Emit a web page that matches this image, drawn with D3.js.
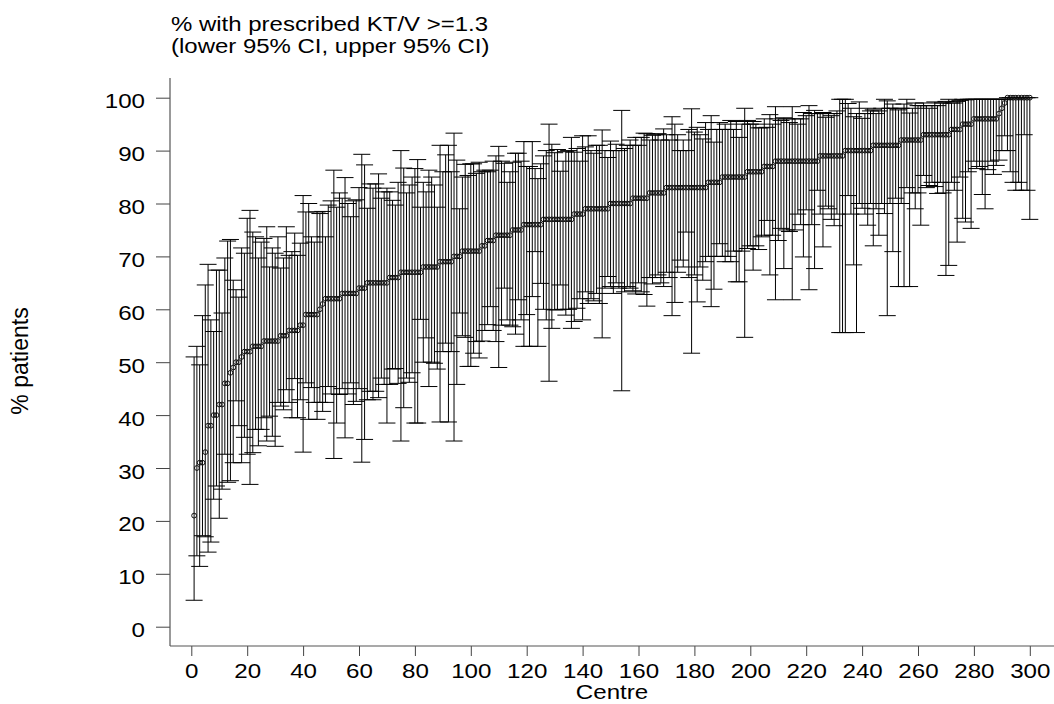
<!DOCTYPE html>
<html>
<head>
<meta charset="utf-8">
<script src="https://cdn.jsdelivr.net/npm/d3@7"></script>
<style>
  body { margin: 0; background: #fff; }
  svg { display: block; font-family: "Liberation Sans", Arial, sans-serif; }
</style>
</head>
<body>
<div id="chart"></div>
<script>
// % with prescribed KT/V >= 1.3 per centre, sorted, with 95% CI
const pct = [
  21,30,31,31,33,38,38,40,40,42,
  42,46,46,48,49,50,50,51,52,52,
  52,53,53,53,53,54,54,54,54,54,
  54,55,55,55,56,56,56,56,57,57,
  59,59,59,59,59,60,61,62,62,62,
  62,62,62,63,63,63,63,63,63,64,
  64,64,65,65,65,65,65,65,65,65,
  66,66,66,66,67,67,67,67,67,67,
  67,67,68,68,68,68,68,68,69,69,
  69,69,69,70,70,70,71,71,71,71,
  71,71,71,72,72,73,73,73,74,74,
  74,74,74,74,75,75,75,75,76,76,
  76,76,76,76,76,77,77,77,77,77,
  77,77,77,77,77,77,78,78,78,78,
  79,79,79,79,79,79,79,79,79,80,
  80,80,80,80,80,80,80,81,81,81,
  81,81,81,82,82,82,82,82,82,83,
  83,83,83,83,83,83,83,83,83,83,
  83,83,83,83,84,84,84,84,84,85,
  85,85,85,85,85,85,85,85,86,86,
  86,86,86,86,87,87,87,87,88,88,
  88,88,88,88,88,88,88,88,88,88,
  88,88,88,88,89,89,89,89,89,89,
  89,89,89,90,90,90,90,90,90,90,
  90,90,90,91,91,91,91,91,91,91,
  91,91,91,92,92,92,92,92,92,92,
  92,93,93,93,93,93,93,93,93,93,
  93,94,94,94,94,95,95,95,95,96,
  96,96,96,96,96,96,96,96,97,98,
  99,100,100,100,100,100,100,100,100,100
];

const upper = [
  51,53,49.5,58.8,64.6,68.5,58,55.8,67.4,67.4,
  59.3,69.7,72.9,73.2,65.5,63.7,62.3,71.6,70.6,77.2,
  78.7,74.6,73.7,69.7,72.7,73.4,75.6,68,71.6,70.6,
  73.7,67.8,69.7,75.6,70.2,70.9,74.4,70.2,72.5,81.5,
  78.4,80,73.7,72.7,78.4,78.1,78.5,73.7,79.7,80.5,
  86.3,79.3,82,81,84.9,80,77.5,80.5,80.7,83,
  89.3,87.3,79.1,83.7,82.9,83.7,85.6,81,82.2,82.9,
  82.2,80.6,79.7,84,90,86.7,82,83.5,85,86.6,
  88.3,79.3,84,82.2,86.3,85,83.5,79.3,91,86,
  89.2,91,86,93.3,88.2,79,85,87.4,85.3,87.5,
  87.5,85.7,87.8,86,86.3,86,86.3,88,89,90.8,
  88,87.6,84,86,87.8,89.5,89.5,88,91.7,87,
  87,91.7,86.6,84.7,87.5,89,90,95,91.2,89.6,
  90.2,86.1,88,89.8,90,92.5,89.7,90.4,88,92.8,
  90.7,92.8,90,89.5,91,91,93.9,90,88.7,91.8,
  90,91.2,90,97.6,90.4,91,92,91,92.5,91,
  92.5,93.3,93.2,92,92.9,93,93.2,92,94.1,93,
  92,96.4,95,93,90,92,90,94,97.9,93.5,
  94.4,93,92.2,95.3,94,96.6,91.6,94,95.3,94,
  95,94,95.7,94,95.5,92.5,95,98,95.7,95,
  95.5,95,94.3,94.3,96,94.4,96.8,95,98.3,96,
  95.7,96.2,96,95.3,98.3,96,95,96,97.2,96.6,
  98.5,97,97.6,97,97,97.2,96.3,97,96.6,97,
  97.5,99.7,99.7,99.7,98.9,98,96.4,97,99.2,96.1,
  97,98,97.5,97.7,97,97.5,98,99.7,99.4,98,
  98.8,98,97.7,98,98.8,99.7,97.1,98,99,98.5,
  98.5,99,98.5,98,98.5,99.2,98.5,99,99,99.3,
  99.7,99,99,99.3,99.5,99.7,99.6,99.7,99.7,99.7,
  99.7,99.7,99.7,99.7,99.7,99.7,99.7,99.7,99.7,99.7,
  99.7,100,100,100,100,100,100,100,100,100
];

const lower = [
  5,13.4,11.4,17.2,17,14.1,16,24.1,26.6,20.5,
  26,32.6,27.3,27.6,31,42.7,38,31,35.8,32.6,
  26.9,32.9,37.3,34.2,37.3,39.5,35.1,39.8,36,34.1,
  42.4,41.7,41,44.8,42.4,39.5,46.9,39.5,42.9,33,
  46.1,39.2,45.2,42.4,39.2,42.4,40.7,42.4,45.4,44,
  31.8,38.5,43.9,45,35.7,44,46.1,42,42.6,45,
  31.1,35.4,42.9,44.5,42.9,44.5,43.3,47,45.8,38.5,
  45.8,48.7,48.8,46,35.1,41.4,47,46.2,48,38.5,
  38.5,58.1,50,54.6,45.4,50,49.8,48.7,38.7,52,
  53.6,38.7,52,35.1,45.8,59.3,55,54.7,49.2,49.2,
  51.7,53.9,50.8,54,56,57.1,60.5,56,53.9,49,
  57,64,58,57,56.7,55.3,61.8,58,53,59,
  53,62.4,70.9,53,64.9,60,58,46.4,56.4,59.9,
  59.9,64.6,60,58.9,60,56.4,57.7,60.2,62,58,
  63.3,61.1,62,61.6,63,61.1,54.6,64,66.2,64.3,
  63,65,64,44.6,63.3,64.3,64,63.5,62.9,65,
  63.3,62.8,60.6,66,64.8,66,66.5,65,64.3,67,
  66,58.8,61.3,67,69.3,68,74.6,66,51.7,66.5,
  61.4,68,65.5,69,70,60.5,63.8,70,72.4,70,
  69,70,69,71,65.2,65.2,71,54.7,71.5,72,
  67.4,72,71.3,73.7,74,76.8,66.5,74,61.8,73,
  75.3,67.7,75,74.7,61.8,75,78,76,69.9,78.8,
  63.7,76,67.7,82.5,78,71.8,79.5,79,77,75.8,
  78,55.6,55.6,55.6,81.5,78,68.4,55.6,80,79.1,
  78,75.9,80,72,79,74,80,78.1,58.8,80,
  70.9,81,64.3,80,64.3,83,64.3,82,79,82,
  75.9,85.3,83,83.4,84,83.2,81.9,84,82,66.4,
  68.3,84,82.5,72.7,85,77.2,76.5,86,75.3,88,
  86.6,87,81.7,79,86.4,88,85.5,87.2,88.2,90,
  92.8,90,86,84,82.5,84,82.5,93,82.5,77
];

const xTicks = [0,20,40,60,80,100,120,140,160,180,200,220,240,260,280,300];
const yTicks = [0,10,20,30,40,50,60,70,80,90,100];
const titleLines = ["% with prescribed KT/V >=1.3", "(lower 95% CI, upper 95% CI)"];

const width = 1054, height = 704;
const stretch = 1.15;

const data = pct.map((p, i) => ({ centre: i + 1, pct: p, lo: lower[i], hi: upper[i] }));

const svg = d3.select("#chart").append("svg")
    .attr("width", width)
    .attr("height", height);

const x = d3.scaleLinear().domain([0, 300]).range([191.3, 1029.8]);
const y = d3.scaleLinear().domain([0, 100]).range([626.7, 97.7]);

const axisX = 170, axisY = 646;

// error bars
const bars = svg.append("g")
    .attr("stroke", "#000")
    .attr("stroke-width", 1)
    .attr("fill", "none");

bars.selectAll("line.v")
    .data(data)
    .enter().append("line")
    .attr("class", "v")
    .attr("x1", d => x(d.centre)).attr("x2", d => x(d.centre))
    .attr("y1", d => y(d.lo)).attr("y2", d => y(d.hi));

const capW = 8.5;
bars.selectAll("line.hi")
    .data(data)
    .enter().append("line")
    .attr("class", "hi")
    .attr("x1", d => x(d.centre) - capW).attr("x2", d => x(d.centre) + capW)
    .attr("y1", d => y(d.hi)).attr("y2", d => y(d.hi));

bars.selectAll("line.lo")
    .data(data)
    .enter().append("line")
    .attr("class", "lo")
    .attr("x1", d => x(d.centre) - capW).attr("x2", d => x(d.centre) + capW)
    .attr("y1", d => y(d.lo)).attr("y2", d => y(d.lo));

// point estimates (hollow circles)
svg.append("g")
    .selectAll("circle")
    .data(data)
    .enter().append("circle")
    .attr("cx", d => x(d.centre))
    .attr("cy", d => y(d.pct))
    .attr("r", 2.4)
    .attr("fill", "none")
    .attr("stroke", "#111")
    .attr("stroke-width", 1);

// axes
const gy = svg.append("g")
    .attr("transform", "translate(" + axisX + ",0)")
    .call(d3.axisLeft(y).tickValues(yTicks).tickSize(14).tickPadding(11));
gy.select(".domain").remove();
gy.selectAll(".tick line").attr("stroke", "#444");
gy.selectAll(".tick text")
    .attr("x", null)
    .attr("dy", "0.48em")
    .attr("transform", "translate(-25,0) scale(" + stretch + ",1)")
    .attr("font-size", 21)
    .attr("font-family", "Liberation Sans, Arial, sans-serif")
    .attr("fill", "#000");

const gx = svg.append("g")
    .attr("transform", "translate(0," + axisY + ")")
    .call(d3.axisBottom(x).tickValues(xTicks).tickSize(10).tickPadding(7));
gx.select(".domain").remove();
gx.selectAll(".tick line").attr("stroke", "#444");
gx.selectAll(".tick text")
    .attr("transform", "scale(" + stretch + ",1)")
    .attr("font-size", 21)
    .attr("font-family", "Liberation Sans, Arial, sans-serif")
    .attr("fill", "#000");

svg.append("line")
    .attr("x1", axisX).attr("x2", axisX)
    .attr("y1", 78).attr("y2", axisY)
    .attr("stroke", "#555").attr("stroke-width", 1.2);
svg.append("line")
    .attr("x1", axisX).attr("x2", 1054)
    .attr("y1", axisY).attr("y2", axisY)
    .attr("stroke", "#555").attr("stroke-width", 1.2);

// axis titles
svg.append("text")
    .attr("transform", "translate(612,699) scale(1.15,1)")
    .attr("text-anchor", "middle")
    .attr("font-size", 21)
    .text("Centre");

svg.append("text")
    .attr("transform", "translate(28,361) rotate(-90)")
    .attr("text-anchor", "middle")
    .attr("font-size", 23)
    .text("% patients");

// chart title
svg.selectAll("text.title")
    .data(titleLines)
    .enter().append("text")
    .attr("class", "title")
    .attr("transform", (d, i) => "translate(171," + (30.5 + i * 22) + ") scale(1.23,1)")
    .attr("font-size", 19.5)
    .text(d => d);
</script>
</body>
</html>
